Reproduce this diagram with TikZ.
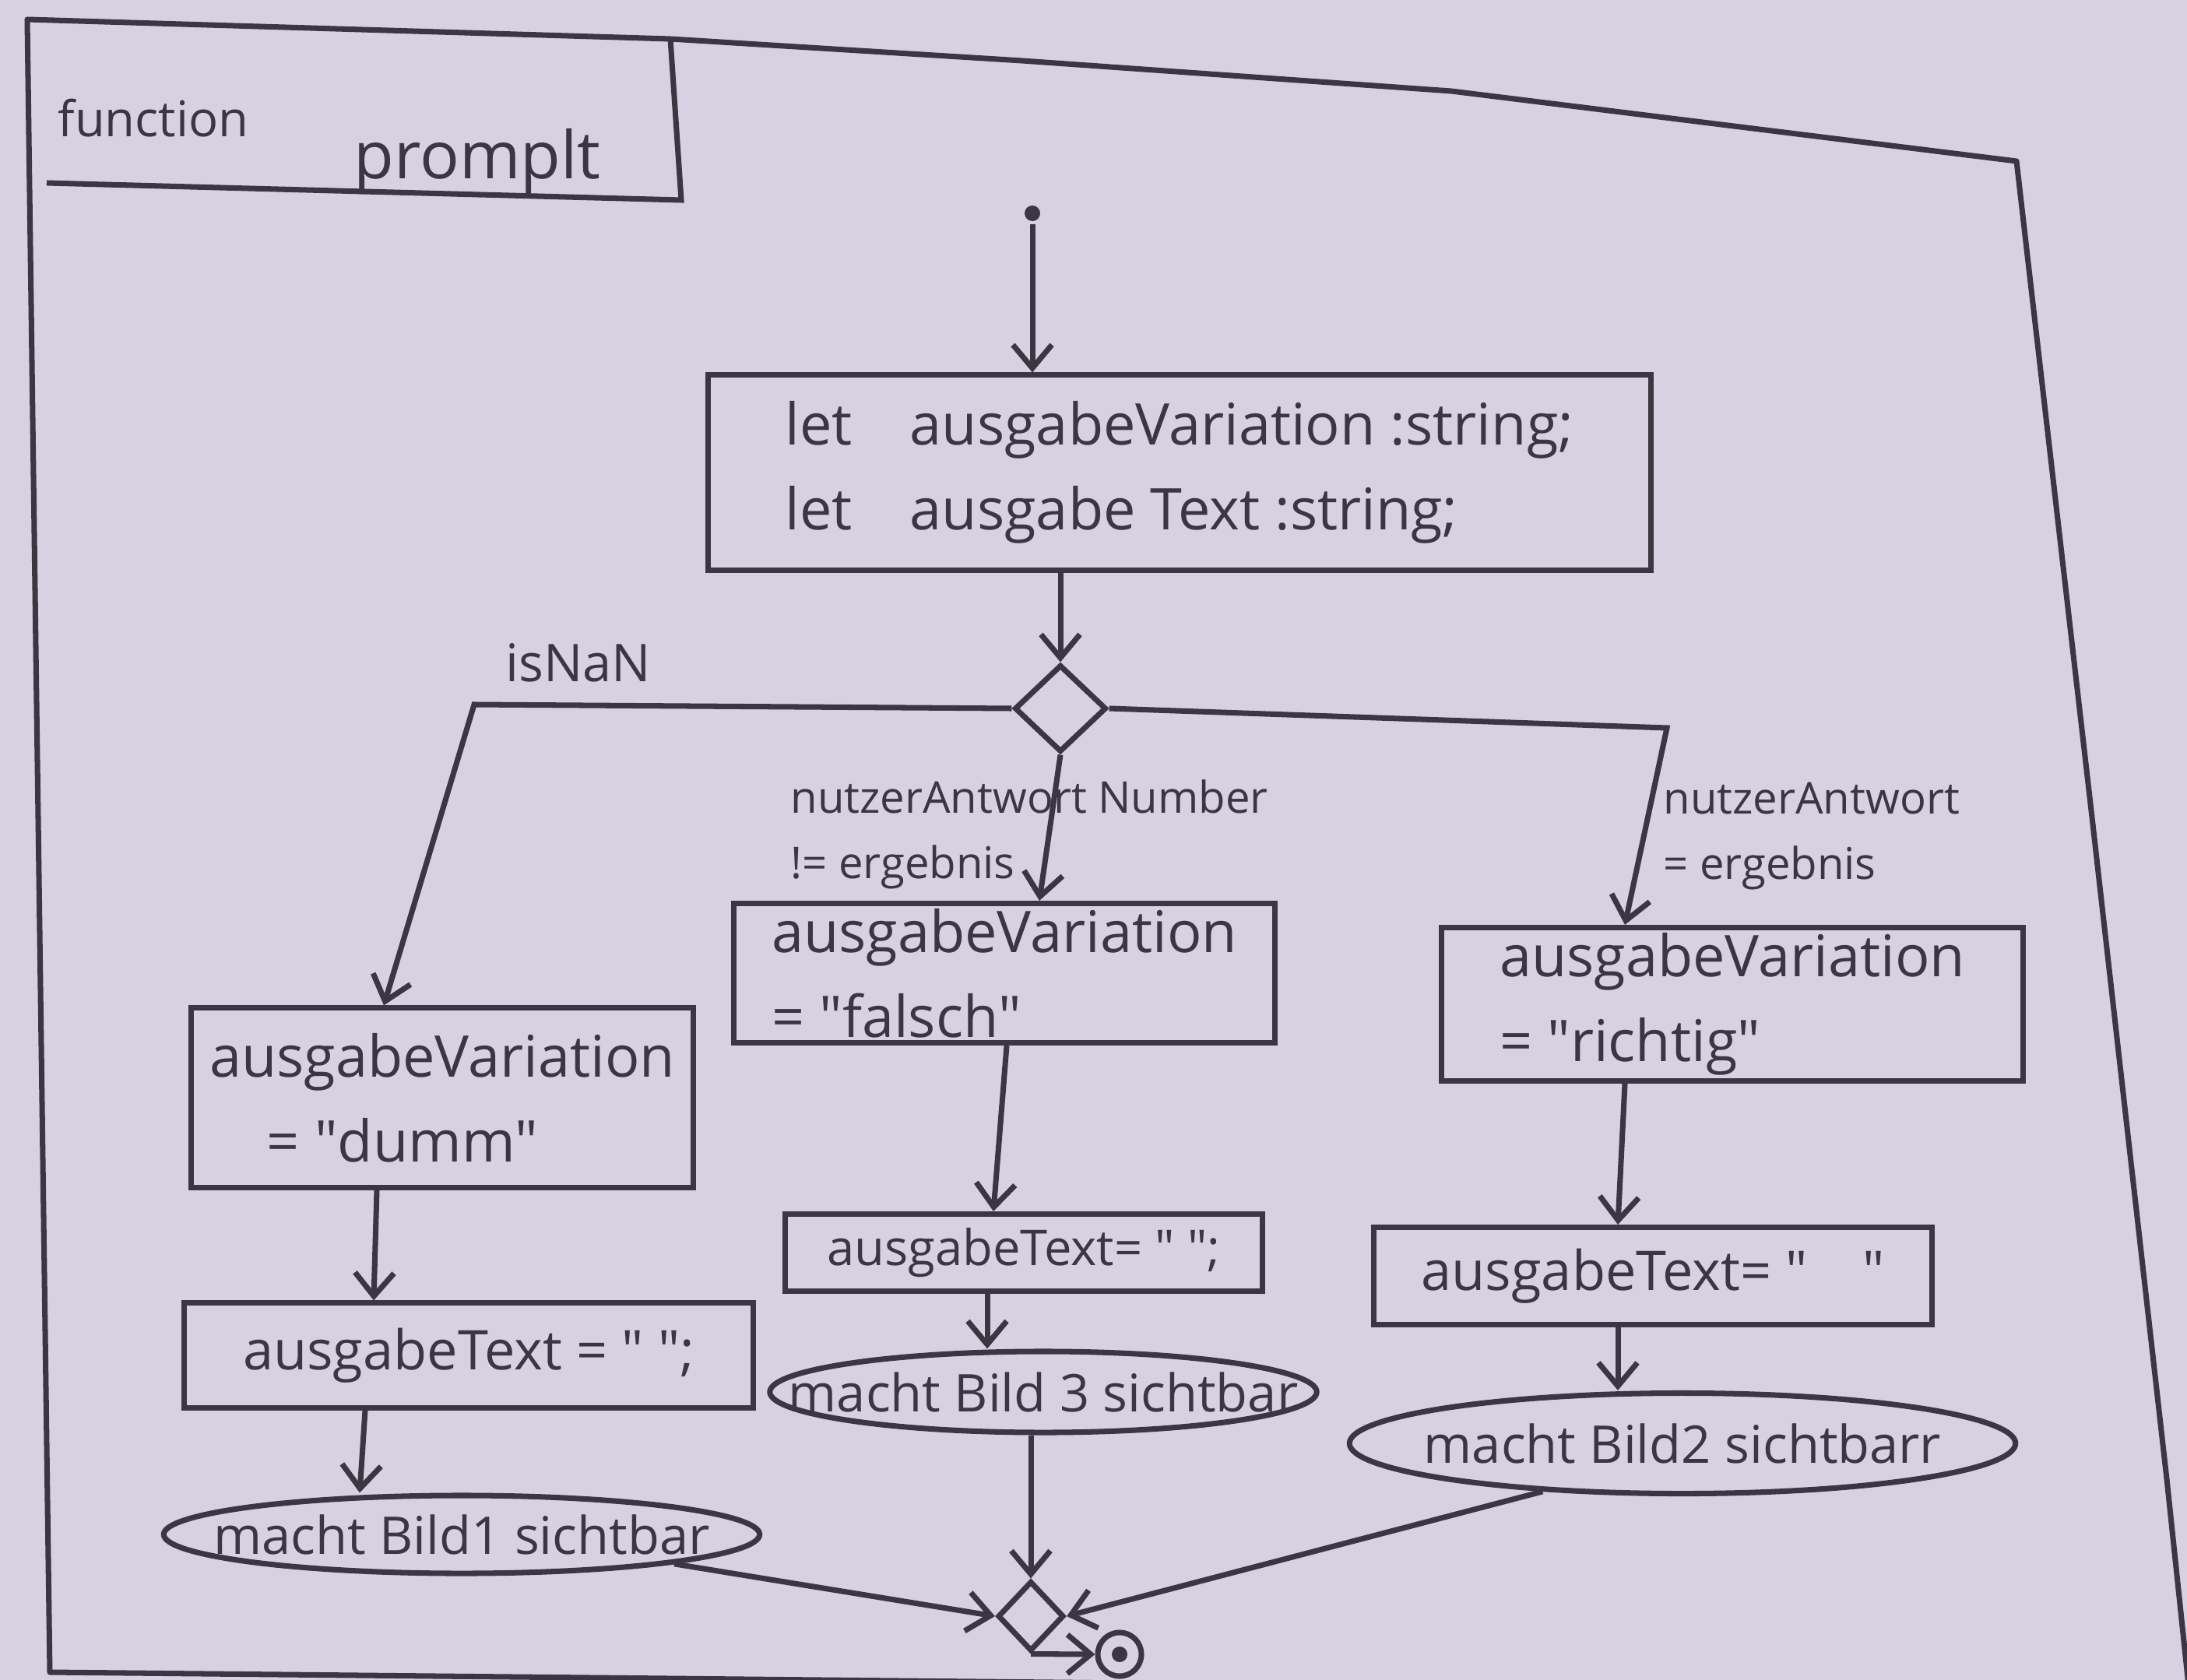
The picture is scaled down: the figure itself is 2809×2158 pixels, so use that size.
\documentclass[tikz,border=0pt]{standalone}
\usepackage{fontspec}
\setmainfont{Open Sans}
\newfontfamily\plainqfont{Open Sans}
\usetikzlibrary{shapes.geometric,arrows.meta,calc}
\definecolor{paper}{RGB}{214,210,226}
\definecolor{ink}{RGB}{58,54,66}
\newcommand{\bxfont}{\fontsize{21}{31}\selectfont}
\newcommand{\txfont}{\fontsize{20}{26}\selectfont}
\newcommand{\ovfont}{\fontsize{19}{23}\selectfont}
\newcommand{\lbfont}{\fontsize{16}{24}\selectfont}
\newcommand{\dq}{{\plainqfont\symbol{34}}}
\begin{document}
\begin{tikzpicture}[x=0.01cm,y=-0.01cm,color=ink,line width=2pt,
  box/.style={draw,rectangle,align=left,font=\bxfont,inner sep=0pt},
  tbox/.style={draw,rectangle,align=left,font=\txfont,inner sep=0pt},
  oval/.style={draw,ellipse,font=\ovfont,inner xsep=-0.8cm,inner ysep=0pt},
  lab/.style={font=\lbfont,align=left,inner sep=0pt},
  dec/.style={draw,diamond,inner sep=0pt},
  initdot/.style={circle,fill,inner sep=0pt,minimum size=0.2cm},
  arr/.style={-{Straight Barb[length=0.3cm,width=0.5cm]}}]
\fill[paper] (0,0) rectangle (2809,2158);
\useasboundingbox (0,0) rectangle (2809,2158);
% outer frame and name tag
\draw[line join=round] (1750,2165) -- (64,2148) -- (35,25) -- (861,50) -- (1313,78) -- (1864,117) -- (2590,207)
  -- (2687,1050) -- (2783,1900) -- (2812,2175);
\draw (861,50) -- (875,257) -- (60,235);
\node[font=\fontsize{18}{22}\selectfont] (fn) at (197,152) {function};
\node[font=\fontsize{24}{28}\selectfont] (pr) at (613,208) {promplt};
% nodes
\node[initdot] (start) at (1326,274) {};
\node[box,minimum width=12.1cm,minimum height=2.5cm] (B1) at (1515,607)
  {let\quad ausgabeVariation :string;\\let\quad ausgabe Text :string;};
\node[dec,minimum width=1.18cm,minimum height=1.12cm] (D) at (1362,910) {};
\node[box,minimum width=6.45cm,minimum height=2.3cm] (L1) at (568,1410)
  {ausgabeVariation\\\quad= \dq dumm\dq};
\node[tbox,minimum width=7.31cm,minimum height=1.34cm] (L2) at (602,1741)
  {ausgabeText = \dq\ \dq;};
\node[oval,minimum width=7.65cm,minimum height=1.0cm] (L3) at (593,1971)
  {macht Bild1 sichtbar};
\node[box,minimum width=6.95cm,minimum height=1.79cm] (M1) at (1290,1250)
  {ausgabeVariation\\= \dq falsch\dq};
\node[tbox,font=\fontsize{18}{22}\selectfont,minimum width=6.13cm,minimum height=0.99cm] (M2) at (1315,1609)
  {ausgabeText= \dq\ \dq;};
\node[oval,minimum width=7.02cm,minimum height=1.04cm] (M3) at (1340,1788)
  {macht Bild 3 sichtbar};
\node[box,minimum width=7.47cm,minimum height=1.97cm] (R1) at (2225,1290)
  {ausgabeVariation\\= \dq richtig\dq};
\node[tbox,minimum width=7.17cm,minimum height=1.25cm] (R2) at (2123,1639)
  {ausgabeText= \dq\quad\dq};
\node[oval,minimum width=8.55cm,minimum height=1.29cm] (R3) at (2161,1854)
  {macht Bild2 sichtbarr};
\node[dec,minimum width=0.85cm,minimum height=0.9cm] (Mg) at (1324,2076) {};
\node[draw,circle,minimum size=0.56cm,inner sep=0pt,
  path picture={\fill (path picture bounding box.center) circle (0.1cm);}] (End) at (1438,2125) {};
% guard labels
\node[lab] (isn) at (743,851) {\fontsize{19}{23}\selectfont isNaN};
\node[lab,anchor=west] (lm) at (1012,1072) {nutzerAntwort Number\\!= ergebnis};
\node[lab,anchor=west] (lr) at (2133,1074) {nutzerAntwort\\= ergebnis};
% connectors
\coordinate (lb) at (609,905);
\coordinate (rb) at (2141,935);
\draw[arr] (start) -- (start |- B1.north);
\draw[arr] (D.north |- B1.south) -- (D.north);
\draw[arr] (D.west) -- (lb) -- ($(L1.north)+(-75,0)$);
\draw[arr] (D.south) -- ($(M1.north)+(45,0)$);
\draw[arr] (D.east) -- (rb) -- ($(R1.north)+(-138,0)$);
\draw[arr] ($(L1.south)+(-84,0)$) -- ($(L2.north)+(-122,0)$);
\draw[arr] ($(L2.south)+(-133,0)$) -- ($(L3.north)+(-131,0)$);
\draw[arr] ($(M1.south)+(3,0)$) -- ($(M2.north)+(-39,0)$);
\draw[arr] ($(M2.south)+(-47,0)$) -- ($(M3.north)+(-72,0)$);
\draw[arr] ($(R1.south)+(-138,0)$) -- ($(R2.north)+(-45,0)$);
\draw[arr] ($(R2.south)+(-45,0)$) -- ($(R3.north)+(-83,0)$);
\draw[arr] ($(M3.south)+(-16,0)$) -- (Mg.north);
\draw[arr] (L3.south east) -- (Mg.west);
\draw[arr] (R3.199) -- (Mg.east);
\draw[arr] (Mg.south) -- (End.west);
\end{tikzpicture}
\end{document}
